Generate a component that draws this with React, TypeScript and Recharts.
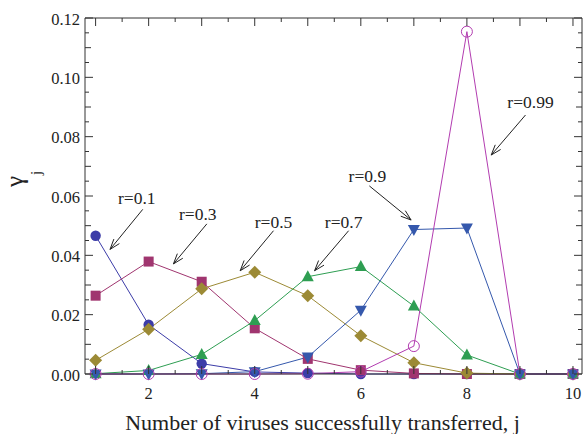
import React from 'react';
import { LineChart, Line, XAxis, YAxis, ReferenceLine } from 'recharts';

const jValues = [1, 2, 3, 4, 5, 6, 7, 8, 9, 10];
const r01 = [0.0466, 0.0166, 0.0035, 0.0007, 0.0003, 0, 0, 0, 0, 0];
const r03 = [0.0264, 0.0379, 0.0311, 0.0154, 0.0051, 0.0013, 0.0002, 0, 0, 0];
const r05 = [0.0046, 0.0151, 0.0287, 0.0343, 0.0264, 0.0129, 0.0038, 0.0003, 0, 0];
const r07 = [0.0001, 0.0012, 0.0066, 0.018, 0.0328, 0.0362, 0.0229, 0.0064, 0, 0];
const r09 = [0, 0, 0.0001, 0.0008, 0.0057, 0.0215, 0.0487, 0.0492, 0, 0];
const r099 = [0, 0, 0, 0, 0.0001, 0.0008, 0.0094, 0.1154, 0, 0];

const xTicks = [1, 1.5, 2, 2.5, 3, 3.5, 4, 4.5, 5, 5.5, 6, 6.5, 7, 7.5, 8, 8.5, 9, 9.5, 10];
const xLabelTicks = [2, 4, 6, 8, 10];
const yTicks = [0, 0.005, 0.01, 0.015, 0.02, 0.025, 0.03, 0.035, 0.04, 0.045, 0.05, 0.055, 0.06,
  0.065, 0.07, 0.075, 0.08, 0.085, 0.09, 0.095, 0.1, 0.105, 0.11, 0.115, 0.12];
const yLabelTicks = [0, 0.02, 0.04, 0.06, 0.08, 0.1, 0.12];

const X_MIN = 0.8;
const X_MAX = 10.17;
const Y_MIN = 0;
const Y_MAX = 0.12;

const annotations = [
  { text: 'r=0.1', x1: 1.889, y1: 0.0555, x2: 1.272, y2: 0.042, dx: -6, dy: -5 },
  { text: 'r=0.3', x1: 3.097, y1: 0.0506, x2: 2.467, y2: 0.0371, dx: -9, dy: -4 },
  { text: 'r=0.5', x1: 4.354, y1: 0.0483, x2: 3.726, y2: 0.0348, dx: 0, dy: -3 },
  { text: 'r=0.7', x1: 5.77, y1: 0.0483, x2: 5.128, y2: 0.0348, dx: -5, dy: -3 },
  { text: 'r=0.9', x1: 6.161, y1: 0.0634, x2: 6.948, y2: 0.0519, dx: -2, dy: -4 },
  { text: 'r=0.99', x1: 9.105, y1: 0.0873, x2: 8.458, y2: 0.0738, dx: 5, dy: -7 },
];

const data = jValues.map((j, i) => ({
  j,
  r01: r01[i],
  r03: r03[i],
  r05: r05[i],
  r07: r07[i],
  r09: r09[i],
  r099: r099[i],
}));

const FONT = "'Liberation Serif', 'Times New Roman', Times, serif";
const AXIS = '#333';
const TXT = '#222';

const CHART_W = 583;
const CHART_H = 434;
const MARGIN = { top: 18, right: 1, bottom: 0, left: 0 };
const Y_AXIS_W = 85;
const X_AXIS_H = 60;
const PLOT_W = CHART_W - MARGIN.left - MARGIN.right - Y_AXIS_W;
const PLOT_H = CHART_H - MARGIN.top - MARGIN.bottom - X_AXIS_H;

const isInt = (v: number) => Math.abs(v - Math.round(v)) < 1e-6;
const isIn = (arr: number[], v: number) => arr.some((a) => Math.abs(a - v) < 1e-9);

const BottomTick = (props: any) => {
  const { x, y, payload } = props;
  const v = payload.value;
  const len = isInt(v) ? 8 : 4;
  const top = y - PLOT_H;
  return (
    <g>
      <line x1={x} x2={x} y1={y} y2={y - len} stroke={AXIS} strokeWidth={1} />
      <line x1={x} x2={x} y1={top} y2={top + len} stroke={AXIS} strokeWidth={1} />
      {isIn(xLabelTicks, v) && (
        <text x={x} y={y + 25} textAnchor="middle" style={{ fontFamily: FONT, fontSize: 16.5 }} fill={TXT}>
          {v}
        </text>
      )}
    </g>
  );
};

const LeftTick = (props: any) => {
  const { x, y, payload } = props;
  const v = payload.value;
  const len = isIn(yLabelTicks, v) ? 8 : isInt(v * 100) ? 6 : 4;
  const right = x + PLOT_W;
  return (
    <g>
      <line x1={x} x2={x + len} y1={y} y2={y} stroke={AXIS} strokeWidth={1} />
      <line x1={right} x2={right - len} y1={y} y2={y} stroke={AXIS} strokeWidth={1} />
      {isIn(yLabelTicks, v) && (
        <text x={x - 5} y={y + 6.5} textAnchor="end" style={{ fontFamily: FONT, fontSize: 16.5 }} fill={TXT}>
          {v.toFixed(2)}
        </text>
      )}
    </g>
  );
};

const makeDot = (kind: string, color: string) => (props: any) => {
  const { cx, cy, index } = props;
  const k = `${kind}-${index}`;
  if (cx == null || cy == null) return <g key={k} />;
  if (kind === 'circle') return <circle key={k} cx={cx} cy={cy} r={5.2} fill={color} />;
  if (kind === 'square')
    return <rect key={k} x={cx - 5} y={cy - 5} width={10} height={10} fill={color} />;
  if (kind === 'diamond')
    return (
      <polygon key={k} points={`${cx},${cy - 6.5} ${cx + 6.5},${cy} ${cx},${cy + 6.5} ${cx - 6.5},${cy}`} fill={color} />
    );
  if (kind === 'up')
    return (
      <polygon key={k} points={`${cx},${cy - 6.5} ${cx + 6},${cy + 4.5} ${cx - 6},${cy + 4.5}`} fill={color} />
    );
  if (kind === 'down')
    return (
      <polygon key={k} points={`${cx},${cy + 6.5} ${cx + 6},${cy - 4.5} ${cx - 6},${cy - 4.5}`} fill={color} />
    );
  return <circle key={k} cx={cx} cy={cy} r={5.5} fill="none" stroke={color} strokeWidth={1} />;
};

const series = [
  { key: 'r01', color: '#3C3CA8', marker: 'circle' },
  { key: 'r03', color: '#A0356F', marker: 'square' },
  { key: 'r05', color: '#9C8A35', marker: 'diamond' },
  { key: 'r07', color: '#2E9E52', marker: 'up' },
  { key: 'r09', color: '#3558AC', marker: 'down' },
  { key: 'r099', color: '#B23CB0', marker: 'open' },
];

const Arrow = (props: any) => {
  const { x1, y1, x2, y2, ann } = props;
  const ang = Math.atan2(y2 - y1, x2 - x1);
  const L = 11;
  const a = 0.33;
  const p1 = `${x2 - L * Math.cos(ang - a)},${y2 - L * Math.sin(ang - a)}`;
  const p2 = `${x2 - L * Math.cos(ang + a)},${y2 - L * Math.sin(ang + a)}`;
  return (
    <g>
      <line x1={x1} y1={y1} x2={x2} y2={y2} stroke="#222" strokeWidth={1} />
      <polyline points={`${p1} ${x2},${y2} ${p2}`} fill="none" stroke="#222" strokeWidth={1} />
      <text x={x1 + ann.dx} y={y1 + ann.dy} textAnchor="middle" style={{ fontFamily: FONT, fontSize: 17.5 }} fill={TXT}>
        {ann.text}
      </text>
    </g>
  );
};

const XLabel = (props: any) => {
  const vb = props.viewBox;
  return (
    <text x={vb.x + vb.width / 2 - 11} y={vb.y + 56} textAnchor="middle" style={{ fontFamily: FONT, fontSize: 22 }} fill={TXT}>
      Number of viruses successfully transferred, j
    </text>
  );
};

const YLabel = () => (
  <g>
    <text transform="translate(23,181.5) rotate(-90)" textAnchor="middle" style={{ fontFamily: FONT, fontSize: 25 }} fill={TXT}>
      γ
    </text>
    <text transform="translate(41,173) rotate(-90)" textAnchor="middle" style={{ fontFamily: FONT, fontSize: 15 }} fill={TXT}>
      j
    </text>
  </g>
);

export default function App() {
  return (
    <div style={{ position: 'absolute', left: 0, top: 0, background: '#fff' }}>
      <LineChart width={CHART_W} height={CHART_H} data={data} margin={MARGIN}>
        <XAxis
          xAxisId="x"
          dataKey="j"
          type="number"
          domain={[X_MIN, X_MAX]}
          ticks={xTicks}
          interval={0}
          tickSize={0}
          tickMargin={0}
          height={X_AXIS_H}
          stroke={AXIS}
          tick={<BottomTick />}
          label={<XLabel />}
        />
        <YAxis
          yAxisId="y"
          type="number"
          domain={[Y_MIN, Y_MAX]}
          ticks={yTicks}
          interval={0}
          tickSize={0}
          tickMargin={0}
          width={Y_AXIS_W}
          stroke={AXIS}
          tick={<LeftTick />}
          label={<YLabel />}
        />
        <ReferenceLine xAxisId="x" yAxisId="y" y={Y_MAX} stroke={AXIS} strokeWidth={1} ifOverflow="visible" />
        <ReferenceLine xAxisId="x" yAxisId="y" x={X_MAX} stroke={AXIS} strokeWidth={1} ifOverflow="visible" />
        {series.map((s) => (
          <Line
            key={s.key}
            xAxisId="x"
            yAxisId="y"
            type="linear"
            dataKey={s.key}
            stroke={s.color}
            strokeWidth={1}
            dot={makeDot(s.marker, s.color)}
            activeDot={false}
            isAnimationActive={false}
          />
        ))}
        {annotations.map((a) => (
          <ReferenceLine
            key={a.text}
            xAxisId="x"
            yAxisId="y"
            segment={[
              { x: a.x1, y: a.y1 },
              { x: a.x2, y: a.y2 },
            ]}
            ifOverflow="visible"
            shape={(p: any) => <Arrow {...p} ann={a} />}
          />
        ))}
      </LineChart>
    </div>
  );
}
